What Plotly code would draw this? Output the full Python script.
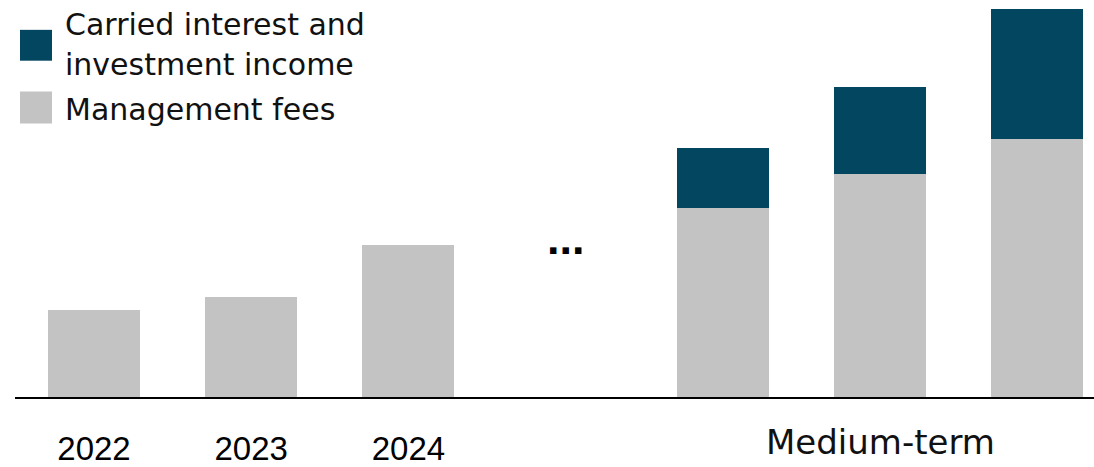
import plotly.graph_objects as go

# Category slots along the x axis (slot 3 is the gap marked with an ellipsis)
slots = [0, 1, 2, 3, 4, 5, 6]
year_labels = ["2022", "2023", "2024"]
year_slots = [0, 1, 2]
gap_slot = 3
medium_label = "Medium-term"
medium_label_slot = 5

# Revenue components (relative units)
management_fees = [8.75, 10.05, 15.3, 0, 18.95, 22.45, 25.95]
carried_interest = [0, 0, 0, 0, 6.1, 8.7, 13.0]

DARK = "#03465F"
GREY = "#C3C3C3"

W, H = 1094, 467
M_L, M_R, M_T, M_B = 15, 0, 0, 68
PW, PH = W - M_L - M_R, H - M_T - M_B


def px_x(px):
    return (px - M_L) / PW


def px_y(py):
    return (H - M_B - py) / PH


fig = go.Figure()
fig.add_trace(go.Bar(x=slots, y=management_fees, marker=dict(color=GREY, line=dict(width=0)),
                     name="Management fees", width=0.585, showlegend=False))
fig.add_trace(go.Bar(x=slots, y=carried_interest, marker=dict(color=DARK, line=dict(width=0)),
                     name="Carried interest and investment income", width=0.585, showlegend=False))


def gothic(size):
    return dict(family="DejaVu Sans", size=size, color="#111111")


shapes = [
    dict(type="rect", xref="paper", yref="paper", x0=px_x(20), x1=px_x(52), y0=px_y(61), y1=px_y(30),
         fillcolor=DARK, line=dict(width=0)),
    dict(type="rect", xref="paper", yref="paper", x0=px_x(20), x1=px_x(52), y0=px_y(124), y1=px_y(92),
         fillcolor=GREY, line=dict(width=0)),
]

annotations = [
    dict(text="Carried interest and", x=px_x(63), y=px_y(25), xref="paper", yref="paper",
         xanchor="left", yanchor="middle", showarrow=False, font=gothic(30)),
    dict(text="investment income", x=px_x(63), y=px_y(65), xref="paper", yref="paper",
         xanchor="left", yanchor="middle", showarrow=False, font=gothic(30)),
    dict(text="Management fees", x=px_x(63), y=px_y(110), xref="paper", yref="paper",
         xanchor="left", yanchor="middle", showarrow=False, font=gothic(30)),
    dict(text="<b>...</b>", x=gap_slot, y=px_y(240), xref="x", yref="paper",
         xanchor="center", yanchor="middle", showarrow=False,
         font=dict(family="Liberation Sans", size=45, color="#000000")),
    dict(text=medium_label, x=medium_label_slot, y=px_y(H - 1), xref="x", yref="paper",
         xanchor="center", yanchor="bottom", showarrow=False, font=gothic(34)),
]

fig.update_layout(
    width=W, height=H,
    margin=dict(l=M_L, r=M_R, t=M_T, b=M_B),
    paper_bgcolor="white", plot_bgcolor="white",
    barmode="stack",
    shapes=shapes,
    annotations=annotations,
    xaxis=dict(range=[-0.5025, 6.361], tickvals=year_slots, ticktext=year_labels,
               showline=True, linecolor="#000000", linewidth=2, showgrid=False, zeroline=False,
               ticks="outside", ticklen=0, tickcolor="rgba(0,0,0,0)", ticklabelstandoff=21,
               tickfont=dict(family="Liberation Sans", size=33, color="#000000")),
    yaxis=dict(range=[0, PH / 10], visible=False, showgrid=False, zeroline=False),
)

fig.write_html("out.html")
